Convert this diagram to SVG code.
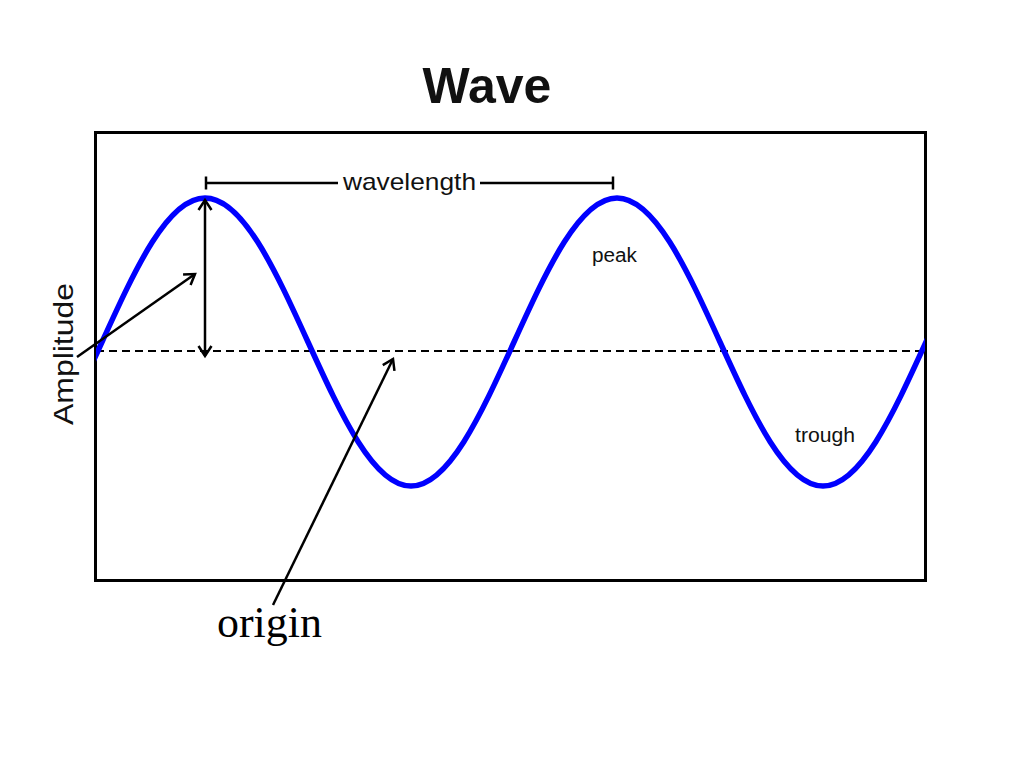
<svg xmlns="http://www.w3.org/2000/svg" width="1024" height="768" viewBox="0 0 1024 768">
  <style>
    .sans { font-family: "Liberation Sans", Arial, Helvetica, sans-serif; fill: #111; }
    .serif { font-family: "Liberation Serif", "Times New Roman", serif; fill: #000; }
    .ln { stroke: #000; stroke-width: 2.5; fill: none; stroke-linecap: butt; }
  </style>
  <defs>
    <marker id="arr" markerUnits="userSpaceOnUse" markerWidth="24" markerHeight="24" viewBox="-12 -12 24 24" refX="0" refY="0" orient="auto-start-reverse" overflow="visible">
      <path d="M -10,-6.5 L 0,0 L -10,6.5" fill="none" stroke="#000" stroke-width="2.5" stroke-linejoin="miter"/>
    </marker>
    <clipPath id="boxclip">
      <rect x="96" y="133" width="829" height="446"/>
    </clipPath>
  </defs>
  <rect width="1024" height="768" fill="#fff"/>

  <g id="title">
    <text class="sans" x="487" y="103" font-size="50" font-weight="bold" text-anchor="middle">Wave</text>
  </g>

  <g id="frame">
    <rect x="95.5" y="132.5" width="830" height="448" fill="none" stroke="#000" stroke-width="3"/>
  </g>

  <g id="origin-line">
    <line x1="96" y1="351" x2="925" y2="351" stroke="#000" stroke-width="2" stroke-dasharray="8,5"/>
  </g>

  <g id="wave" clip-path="url(#boxclip)">
    <path d="M -1,486 C 36.28,486 68.41,415.77 102,342 C 135.59,268.23 167.72,198 205,198 C 242.28,198 274.41,268.23 308,342 C 341.59,415.77 373.72,486 411,486 C 448.28,486 480.41,415.77 514,342 C 547.59,268.23 579.72,198 617,198 C 654.28,198 686.41,268.23 720,342 C 753.59,415.77 785.72,486 823,486 C 860.28,486 892.41,415.77 926,342 C 959.59,268.23 991.72,198 1029,198" fill="none" stroke="#0000ff" stroke-width="5.5"/>
  </g>

  <g id="wavelength">
    <line class="ln" x1="206" y1="183" x2="338" y2="183"/>
    <line class="ln" x1="480" y1="183" x2="613" y2="183"/>
    <line class="ln" x1="206" y1="176.5" x2="206" y2="189.5"/>
    <line class="ln" x1="613" y1="176.5" x2="613" y2="189.5"/>
    <text class="sans" x="409.5" y="190" font-size="24" text-anchor="middle" textLength="133" lengthAdjust="spacingAndGlyphs">wavelength</text>
  </g>

  <g id="peak">
    <text class="sans" x="614.5" y="262" font-size="19.5" text-anchor="middle" textLength="45" lengthAdjust="spacingAndGlyphs">peak</text>
  </g>

  <g id="trough">
    <text class="sans" x="825" y="442" font-size="19.5" text-anchor="middle" textLength="60" lengthAdjust="spacingAndGlyphs">trough</text>
  </g>

  <g id="amplitude">
    <text class="sans" transform="translate(73,354) rotate(-90)" x="0" y="0" font-size="28" text-anchor="middle" textLength="142" lengthAdjust="spacingAndGlyphs">Amplitude</text>
  </g>

  <g id="origin">
    <text class="serif" x="269.5" y="637" font-size="45" text-anchor="middle" textLength="105" lengthAdjust="spacingAndGlyphs">origin</text>
  </g>

  <g id="connectors">
    <line class="ln" x1="205" y1="200" x2="205" y2="356" marker-start="url(#arr)" marker-end="url(#arr)"/>
    <line class="ln" x1="77" y1="357" x2="195" y2="274" marker-end="url(#arr)"/>
    <line class="ln" x1="273" y1="605" x2="393" y2="359" marker-end="url(#arr)"/>
  </g>
</svg>
